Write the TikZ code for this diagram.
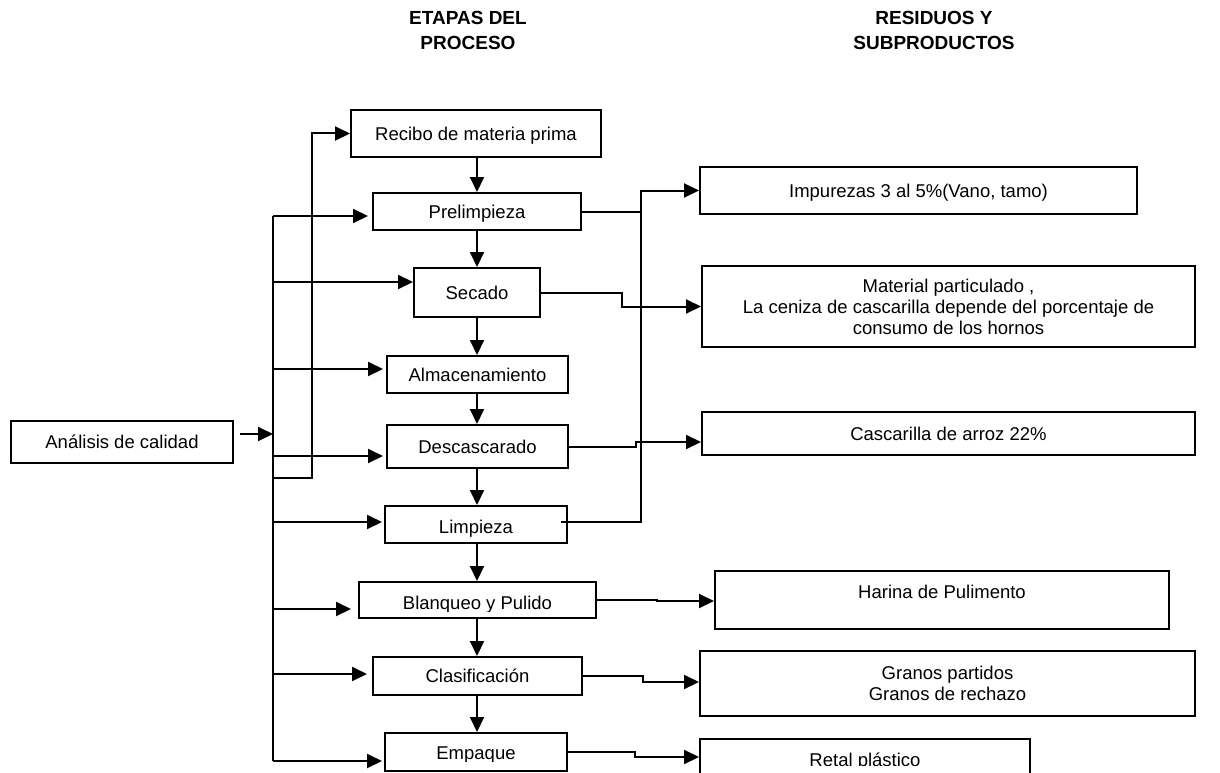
\documentclass[tikz,border=0pt]{standalone}
\usepackage{fontspec}
\setmainfont{Liberation Sans}
\usetikzlibrary{arrows.meta}

\begin{document}
\begin{tikzpicture}[x=1pt,y=-1pt,
  every node/.style={font=\fontsize{18.5}{21}\selectfont},
  box/.style={draw, line width=2pt, inner sep=0pt, align=center},
  one/.style={text height=13pt, text depth=0pt},
  ln/.style={line width=2pt},
  arr/.style={line width=2pt, -{Triangle[length=15pt,width=14pt]}},
  head/.style={font=\fontsize{19}{25}\selectfont\bfseries, align=center, inner sep=0pt}]

\useasboundingbox (0,0) rectangle (1220,773);
\clip (0,0) rectangle (1220,773);

% column headings
\node[head] (h1) at (468,30.7) {ETAPAS DEL\\PROCESO};
\node[head] (h2) at (934,30.7) {RESIDUOS Y\\SUBPRODUCTOS};

% quality control box
\node[box, one, minimum width=222, minimum height=42] (analisis) at (122,442) {Análisis de calidad};

% process stages
\node[box, one, minimum width=250, minimum height=47] (recibo) at (476,133.5) {Recibo de materia prima};
\node[box, one, minimum width=208, minimum height=37] (preli) at (477,211.5) {Prelimpieza};
\node[box, one, minimum width=126, minimum height=49] (secado) at (477,292.5) {Secado};
\node[box, one, minimum width=181, minimum height=37] (almac) at (477.5,374.5) {Almacenamiento};
\node[box, one, minimum width=181, minimum height=43] (descas) at (477.5,446.5) {Descascarado};
\node[box, minimum width=182, minimum height=37] (limp) at (476,524.5) {};
\node[box, minimum width=237, minimum height=36] (blanq) at (477.5,600) {};
\node[box, one, minimum width=209, minimum height=38] (clasif) at (477.5,676) {Clasificación};
\node[box, minimum width=182, minimum height=38] (empaque) at (476,752) {};

% waste and by-products
\node[box, one, minimum width=437, minimum height=47] (impur) at (918.5,190.5) {Impurezas 3 al 5\%(Vano, tamo)};
\node[box, minimum width=493, minimum height=81] (material) at (948.5,306.5)
  {Material particulado ,\\La ceniza de cascarilla depende del porcentaje de\\consumo de los hornos};
\node[box, one, minimum width=493, minimum height=43] (cascar) at (948.5,433.5) {Cascarilla de arroz 22\%};
\node[box, minimum width=454, minimum height=58] (harina) at (942,600) {};
\node[anchor=base, inner sep=0pt] (harinatxt) at (942,598) {Harina de Pulimento};
\node[box, minimum width=495, minimum height=65] (granos) at (947.5,683.5) {Granos partidos\\Granos de rechazo};
\node[box, minimum width=330, minimum height=61] (retal) at (865,769.5) {};

% labels cut off by the box margins
\begin{scope}
  \clip (limp.north west) rectangle (limp.east |- 0,536);
  \node[anchor=base, inner sep=0pt] (limptxt) at (476,533) {Limpieza};
\end{scope}
\begin{scope}
  \clip (blanq.north west) rectangle (blanq.east |- 0,611.5);
  \node[anchor=base, inner sep=0pt] (blanqtxt) at (477.5,609) {Blanqueo y Pulido};
\end{scope}
\begin{scope}
  \clip (empaque.north west) rectangle (empaque.east |- 0,761.5);
  \node[anchor=base, inner sep=0pt] (empaquetxt) at (476,759.5) {Empaque};
\end{scope}
\begin{scope}
  \clip (retal.north west) rectangle (retal.east |- 0,765.5);
  \node[anchor=base, inner sep=0pt] (retaltxt) at (865,766) {Retal plástico};
\end{scope}

% main flow down the stage column
\coordinate (col) at (477,0);
\draw[arr] (recibo.south -| col) -- (preli.north -| col);
\draw[arr] (preli.south -| col) -- (secado.north -| col);
\draw[arr] (secado.south -| col) -- (almac.north -| col);
\draw[arr] (almac.south -| col) -- (descas.north -| col);
\draw[arr] (descas.south -| col) -- (limp.north -| col);
\draw[arr] (limp.south -| col) -- (blanq.north -| col);
\draw[arr] (blanq.south -| col) -- (clasif.north -| col);
\draw[arr] (clasif.south -| col) -- (empaque.north -| col);

% quality control distribution bus
\coordinate (qin) at (240,434);
\coordinate (qa) at (273,434);
\coordinate (q1) at (273,216);
\coordinate (q2) at (273,282);
\coordinate (q3) at (273,369);
\coordinate (q4) at (273,456);
\coordinate (q5) at (273,522);
\coordinate (q6) at (273,609);
\coordinate (q7) at (273,674);
\coordinate (q8) at (273,761);
\coordinate (qk) at (273,478);
\coordinate (qr) at (312,133.5);

\draw[arr] (qin) -- (qa);
\draw[ln] (q1) -- (q8);
\draw[arr, shorten >=4pt] (q1) -- (preli.west |- q1);
\draw[arr] (q2) -- (secado.west |- q2);
\draw[arr, shorten >=3pt] (q3) -- (almac.west |- q3);
\draw[arr, shorten >=3pt] (q4) -- (descas.west |- q4);
\draw[arr, shorten >=2pt] (q5) -- (limp.west |- q5);
\draw[arr, shorten >=7pt] (q6) -- (blanq.west |- q6);
\draw[arr, shorten >=5pt] (q7) -- (clasif.west |- q7);
\draw[arr, shorten >=2pt] (q8) -- (empaque.west |- q8);
\draw[arr] (qk) -| (qr) -- (recibo.west);

% residues collected on the right
\coordinate (rb) at (641,0);
\coordinate (lx) at (561,522);
\draw[ln] (preli.east) -- (preli.east -| rb);
\draw[arr] (lx) -| (impur.west -| rb) -- (impur.west);
\draw[arr] (secado.east) -- ++(81,0) |- (material.west);
\draw[arr] (descas.east) -- ++(67,0) |- (cascar.west |- 0,442);
\draw[arr] (blanq.east) -- ++(60,0) |- (harina.west |- 0,601);
\draw[arr] (clasif.east) -- ++(60,0) |- (granos.west |- 0,682);
\draw[arr] (empaque.east) -- ++(67,0) |- (retal.west |- 0,757);

\end{tikzpicture}
\end{document}
